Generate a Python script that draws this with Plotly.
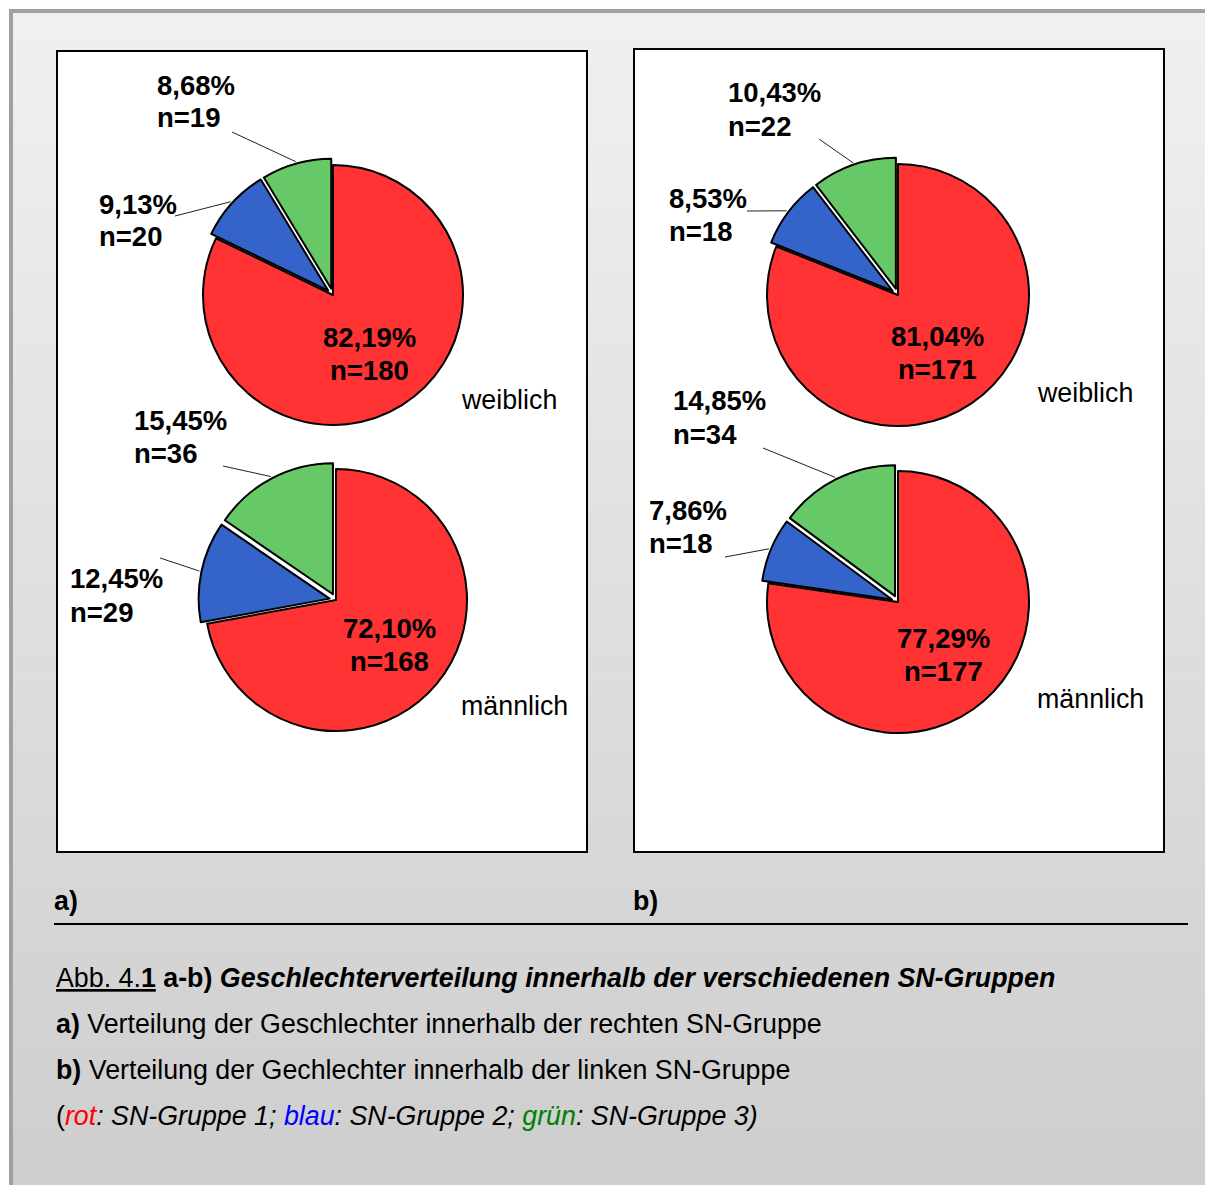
import math
import plotly.graph_objects as go

# ---- data -------------------------------------------------------------
sn_groups = ["SN-Gruppe 1", "SN-Gruppe 2", "SN-Gruppe 3"]
sexes = ["weiblich", "männlich"]
panels = ["a)", "b)"]

counts_a_weiblich = [180, 20, 19]
counts_a_maennlich = [168, 29, 36]
counts_b_weiblich = [171, 18, 22]
counts_b_maennlich = [177, 18, 34]

slice_colors = ["#ff3333", "#3464c9", "#66c866"]
slice_pull = [0.0, 0.05, 0.05]

# ---- canvas geometry (pixels) -------------------------------------------
W, H = 1205, 1185
FONT = "Liberation Sans, Arial, Helvetica, sans-serif"
FS = 26.8        # caption and plain labels
FS_LABEL = 27.5  # bold value labels on the pies
LEFT_SHIFT = -3  # compensate the annotation box padding for left-aligned text


def px(x):
    return x / W


def py(y):
    return 1 - y / H


def fmt_pct(v):
    return f"{v:.2f}".replace(".", ",") + "%"


# per pie: counts, sex label, centre, radius, label anchors for the two small slices
pies = [
    dict(counts=counts_a_weiblich, sex=sexes[0], c=(333, 295), r=130,
         sex_xy=(462, 400),
         small=[dict(xy=(100, 204), lead=(175, 216)),
                dict(xy=(158, 85), lead=(232, 132))]),
    dict(counts=counts_a_maennlich, sex=sexes[1], c=(336, 600), r=131,
         sex_xy=(462, 706),
         small=[dict(xy=(71, 579), lead=(160, 558)),
                dict(xy=(135, 420), lead=(223, 466))]),
    dict(counts=counts_b_weiblich, sex=sexes[0], c=(898, 295), r=131,
         sex_xy=(1038, 393),
         small=[dict(xy=(670, 198), lead=(747, 211)),
                dict(xy=(729, 93), lead=(819, 139))]),
    dict(counts=counts_b_maennlich, sex=sexes[1], c=(898, 602), r=131,
         sex_xy=(1038, 699),
         small=[dict(xy=(650, 510), lead=(725, 557)),
                dict(xy=(674, 401), lead=(763, 448))]),
]

LINE_GAP = 33  # distance between the percent line and the n= line

fig = go.Figure()
shapes = []
annotations = []


def text_left(x, y, text, size=FS):
    annotations.append(dict(
        x=px(x), y=py(y), xref="paper", yref="paper", text=text,
        showarrow=False, xanchor="left", yanchor="middle", xshift=LEFT_SHIFT,
        font=dict(family=FONT, size=size, color="black")))


# ---- background: soft vertical grey gradient + frame --------------------
top_y, n_strips = 13, 90
strip_h = (H - top_y) / n_strips
for i in range(n_strips):
    t = i / (n_strips - 1)
    g = round(240 - 34 * t)
    shapes.append(dict(type="rect", xref="paper", yref="paper", layer="below",
                       x0=px(13), x1=px(W), y0=py(top_y + i * strip_h),
                       y1=py(top_y + (i + 1) * strip_h + 0.6),
                       fillcolor=f"rgb({g},{g},{g})", line=dict(width=0)))
# grey frame on top and left
shapes.append(dict(type="rect", xref="paper", yref="paper", layer="below",
                   x0=px(9), x1=px(W), y0=py(9), y1=py(13),
                   fillcolor="#a0a0a0", line=dict(width=0)))
shapes.append(dict(type="rect", xref="paper", yref="paper", layer="below",
                   x0=px(9), x1=px(13), y0=py(9), y1=py(H),
                   fillcolor="#a0a0a0", line=dict(width=0)))

# white chart panels
for x0, y0, x1, y1 in [(57, 51, 587, 852), (634, 49, 1164, 852)]:
    shapes.append(dict(type="rect", xref="paper", yref="paper", layer="below",
                       x0=px(x0), x1=px(x1), y0=py(y0), y1=py(y1),
                       fillcolor="white", line=dict(color="black", width=2)))

# rule under the panel letters
shapes.append(dict(type="line", xref="paper", yref="paper",
                   x0=px(54), x1=px(1188), y0=py(924), y1=py(924),
                   line=dict(color="black", width=2)))

# ---- pies --------------------------------------------------------------
max_pull = max(slice_pull)
for p in pies:
    cx, cy = p["c"]
    r = p["r"]
    half = r * (1 + max_pull)
    counts = p["counts"]
    total = sum(counts)
    fig.add_trace(go.Pie(
        values=counts, labels=sn_groups, sort=False,
        direction="clockwise", rotation=0,
        pull=slice_pull,
        marker=dict(colors=slice_colors, line=dict(color="black", width=2)),
        textinfo="none", hoverinfo="label+value+percent",
        showlegend=False,
        domain=dict(x=[px(cx - half), px(cx + half)],
                    y=[py(cy + half), py(cy - half)]),
    ))

    # angles of slice mid-points, clockwise from 12 o'clock
    mids = []
    start = 0.0
    for v in counts:
        span = 360.0 * v / total
        mids.append(start + span / 2)
        start += span

    # label inside the large slice
    a = math.radians(mids[0])
    lx = cx + 0.535 * r * math.sin(a)
    ly = cy - 0.535 * r * math.cos(a)
    for k, txt in enumerate([fmt_pct(100 * counts[0] / total), f"n={counts[0]}"]):
        annotations.append(dict(
            x=px(lx), y=py(ly + (k - 0.5) * LINE_GAP), xref="paper", yref="paper",
            text=f"<b>{txt}</b>", showarrow=False, xanchor="center", yanchor="middle",
            font=dict(family=FONT, size=FS_LABEL, color="black")))

    # labels and leader lines for the two small slices
    for idx, info in zip([1, 2], p["small"]):
        tx, ty = info["xy"]
        for k, txt in enumerate([fmt_pct(100 * counts[idx] / total), f"n={counts[idx]}"]):
            text_left(tx, ty + k * LINE_GAP, f"<b>{txt}</b>", FS_LABEL)
        a = math.radians(mids[idx])
        dist = r * (1 + slice_pull[idx]) + 2
        ex = cx + dist * math.sin(a)
        ey = cy - dist * math.cos(a)
        lx0, ly0 = info["lead"]
        shapes.append(dict(type="line", xref="paper", yref="paper", layer="above",
                           x0=px(lx0), y0=py(ly0), x1=px(ex), y1=py(ey),
                           line=dict(color="#222222", width=1)))

    sx, sy = p["sex_xy"]
    text_left(sx, sy, p["sex"])

# ---- panel letters ------------------------------------------------------
for label, x in zip(panels, [55, 634]):
    text_left(x, 901, f"<b>{label}</b>")

# ---- caption ------------------------------------------------------------
caption = [
    "<u>Abb. 4.<b>1</b></u><b> a-b) <i>Geschlechterverteilung innerhalb der "
    "verschiedenen SN-Gruppen</i></b>",
    "<b>a)</b> Verteilung der Geschlechter innerhalb der rechten SN-Gruppe",
    "<b>b)</b> Verteilung der Gechlechter innerhalb der linken SN-Gruppe",
    "(<i><span style='color:#ff0000'>rot</span>: SN-Gruppe 1; "
    "<span style='color:#0000ff'>blau</span>: SN-Gruppe 2; "
    "<span style='color:#008000'>grün</span>: SN-Gruppe 3)</i>",
]
for line, y in zip(caption, [978, 1024, 1070, 1116]):
    text_left(57, y, line)

fig.update_layout(
    width=W, height=H,
    margin=dict(l=0, r=0, t=0, b=0),
    paper_bgcolor="white",
    plot_bgcolor="white",
    shapes=shapes,
    annotations=annotations,
    showlegend=False,
)

fig.write_html("out.html", config={"displayModeBar": False})
